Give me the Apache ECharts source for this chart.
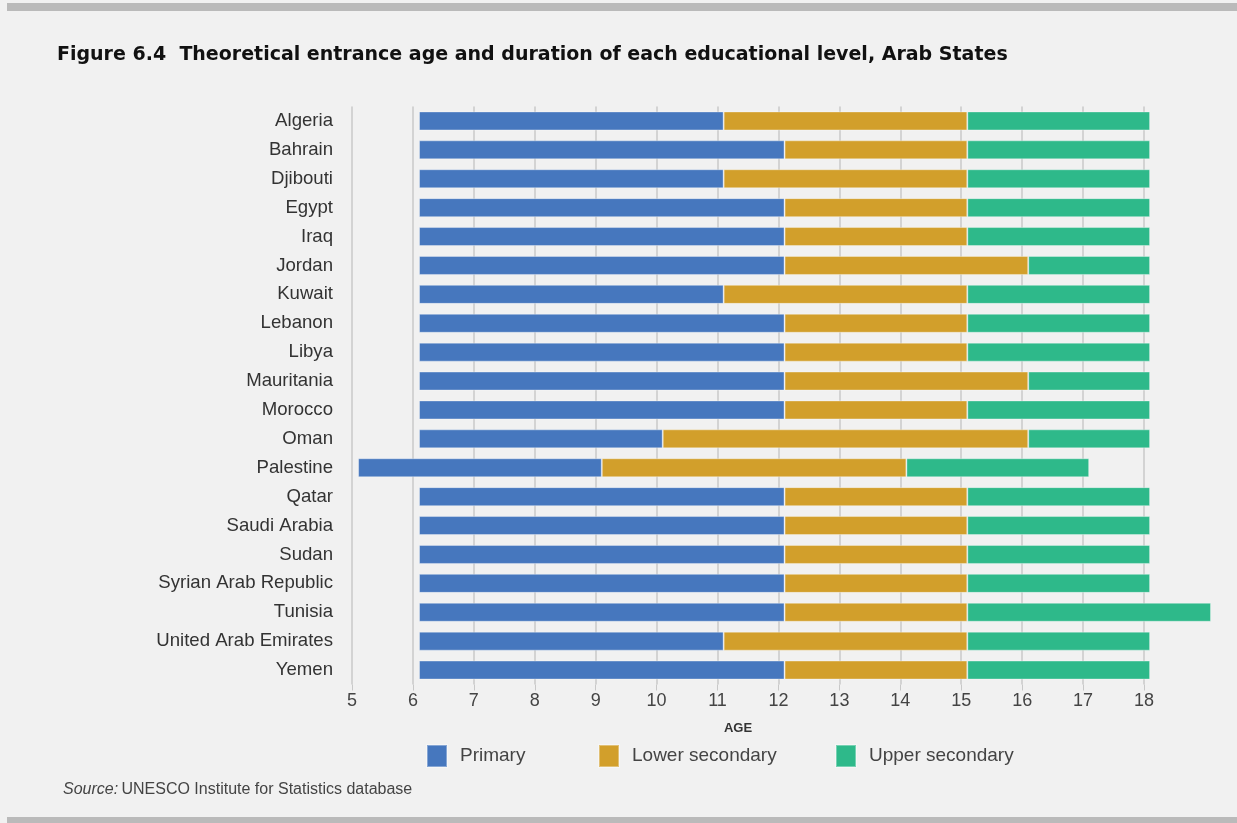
<!DOCTYPE html>
<html>
<head>
<meta charset="utf-8">
<script src="https://cdn.jsdelivr.net/npm/echarts@6/dist/echarts.min.js"></script>
<style>
  html, body { margin: 0; padding: 0; background: #f1f1f1; }
  #chart { width: 1237px; height: 823px; }
</style>
</head>
<body>
<div id="chart"></div>
<script>
// countries, top to bottom
const countries = ['Algeria', 'Bahrain', 'Djibouti', 'Egypt', 'Iraq', 'Jordan', 'Kuwait', 'Lebanon', 'Libya',
  'Mauritania', 'Morocco', 'Oman', 'Palestine', 'Qatar', 'Saudi Arabia', 'Sudan', 'Syrian Arab Republic',
  'Tunisia', 'United Arab Emirates', 'Yemen'];
// theoretical entrance age to primary
const entranceAge = [6, 6, 6, 6, 6, 6, 6, 6, 6, 6, 6, 6, 5, 6, 6, 6, 6, 6, 6, 6];
// durations in years
const primaryYears = [5, 6, 5, 6, 6, 6, 5, 6, 6, 6, 6, 4, 4, 6, 6, 6, 6, 6, 5, 6];
const lowerSecYears = [4, 3, 4, 3, 3, 4, 4, 3, 3, 4, 3, 6, 5, 3, 3, 3, 3, 3, 4, 3];
const upperSecYears = [3, 3, 3, 3, 3, 2, 3, 3, 3, 2, 3, 2, 3, 3, 3, 3, 3, 4, 3, 3];
const ageTicks = [5, 6, 7, 8, 9, 10, 11, 12, 13, 14, 15, 16, 17, 18];

// bars in the original sit slightly right of the tick marks
const barShift = 0.1;

const colors = { primary: '#4677be', lower: '#d29f2b', upper: '#2eb98a' };
const font = 'Liberation Sans, Arial, sans-serif';

const chart = echarts.init(document.getElementById('chart'));

function barSeries(name, data, color) {
  return {
    name: name,
    type: 'bar',
    stack: 'age',
    barWidth: 19,
    clip: false,
    data: data,
    itemStyle: { color: color, borderColor: 'rgba(255,255,255,0.35)', borderWidth: 1 },
    emphasis: { disabled: true }
  };
}

function legendAt(left, name) {
  return {
    left: left, top: 744, padding: 0,
    data: [name],
    itemWidth: 20, itemHeight: 22, itemGap: 0,
    icon: 'rect',
    selectedMode: false,
    textStyle: { fontFamily: font, fontSize: 19, color: '#444', padding: [0, 0, 0, 8] }
  };
}

chart.setOption({
  backgroundColor: '#f1f1f1',
  animation: false,
  grid: { left: 352, right: 93, top: 106.5, bottom: 138.5, containLabel: false },
  xAxis: {
    type: 'value',
    min: ageTicks[0], max: ageTicks[ageTicks.length - 1], interval: 1,
    name: 'AGE', nameLocation: 'middle', nameGap: 37,
    nameTextStyle: { fontFamily: font, fontSize: 13, fontWeight: 'bold', color: '#333', padding: [0, 20, 0, 0] },
    axisLine: { show: false },
    axisTick: { show: true, length: 6, lineStyle: { color: '#c8c8c8' } },
    axisLabel: { fontFamily: font, fontSize: 18, color: '#444', margin: 8 },
    splitLine: { show: true, lineStyle: { color: '#c8c8c8', width: 1.5 } }
  },
  yAxis: {
    type: 'category',
    data: countries,
    inverse: true,
    axisLine: { show: false },
    axisTick: { show: false },
    axisLabel: { fontFamily: font, fontSize: 18.6, color: '#333', margin: 19 }
  },
  legend: [
    legendAt(426, 'Primary'),
    legendAt(598, 'Lower secondary'),
    legendAt(835, 'Upper secondary')
  ],
  series: [
    {
      name: 'base', type: 'bar', stack: 'age', barWidth: 19, silent: true,
      data: entranceAge.map(v => v + barShift),
      itemStyle: { color: 'transparent' }
    },
    barSeries('Primary', primaryYears, colors.primary),
    barSeries('Lower secondary', lowerSecYears, colors.lower),
    barSeries('Upper secondary', upperSecYears, colors.upper)
  ],
  graphic: [
    { type: 'rect', left: 7, top: 3, shape: { width: 1230, height: 8 }, style: { fill: '#bababa' } },
    { type: 'rect', left: 7, top: 817, shape: { width: 1230, height: 6 }, style: { fill: '#bababa' } },
    {
      type: 'text', left: 57, top: 46,
      style: {
        text: 'Figure 6.4  Theoretical entrance age and duration of each educational level, Arab States',
        font: 'bold 19px "DejaVu Sans", sans-serif', fill: '#111'
      }
    },
    {
      type: 'text', left: 63, top: 782,
      style: {
        rich: {
          i: { fontFamily: font, fontStyle: 'italic', fontSize: 16, fill: '#444' },
          n: { fontFamily: font, fontSize: 16, fill: '#444' }
        },
        text: '{i|Source:} {n|UNESCO Institute for Statistics database}'
      }
    }
  ]
});
</script>
</body>
</html>
